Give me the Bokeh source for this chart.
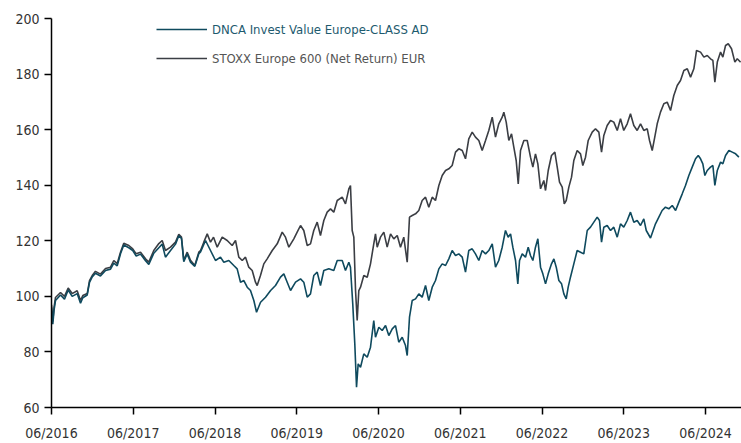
from bokeh.plotting import figure
from bokeh.models import Range1d, FixedTicker, Legend, LegendItem
from bokeh.embed import file_html
from bokeh.resources import INLINE

tick_years = [2016.5, 2017.5, 2018.5, 2019.5, 2020.5, 2021.5, 2022.5, 2023.5, 2024.5]
tick_labels = ["06/2016", "06/2017", "06/2018", "06/2019", "06/2020", "06/2021", "06/2022", "06/2023", "06/2024"]
y_ticks = [60, 80, 100, 120, 140, 160, 180, 200]

bench_name = "STOXX Europe 600 (Net Return) EUR"
fund_name = "DNCA Invest Value Europe-CLASS AD"

bench_years = [
    2016.500, 2016.516, 2016.531, 2016.549, 2016.610, 2016.659, 2016.704, 2016.753, 2016.814, 2016.855,
    2016.883, 2016.937, 2016.965, 2016.998, 2017.038, 2017.099, 2017.161, 2017.222, 2017.262, 2017.304,
    2017.344, 2017.384, 2017.446, 2017.494, 2017.536, 2017.589, 2017.650, 2017.690, 2017.751, 2017.813,
    2017.854, 2017.894, 2017.956, 2018.017, 2018.057, 2018.090, 2018.118, 2018.160, 2018.200, 2018.253,
    2018.302, 2018.323, 2018.363, 2018.405, 2018.445, 2018.482, 2018.527, 2018.588, 2018.649, 2018.710,
    2018.751, 2018.791, 2018.833, 2018.873, 2018.913, 2018.955, 2018.995, 2019.016, 2019.056, 2019.097,
    2019.138, 2019.200, 2019.261, 2019.322, 2019.362, 2019.403, 2019.464, 2019.505, 2019.546, 2019.586,
    2019.628, 2019.668, 2019.708, 2019.750, 2019.790, 2019.831, 2019.872, 2019.913, 2019.953, 2019.995,
    2020.056, 2020.096, 2020.137, 2020.157, 2020.178, 2020.198, 2020.219, 2020.239, 2020.259, 2020.280,
    2020.320, 2020.362, 2020.402, 2020.442, 2020.463, 2020.484, 2020.524, 2020.565, 2020.606, 2020.647,
    2020.687, 2020.729, 2020.769, 2020.809, 2020.851, 2020.879, 2020.912, 2020.953, 2020.993, 2021.034,
    2021.075, 2021.115, 2021.157, 2021.197, 2021.238, 2021.279, 2021.320, 2021.360, 2021.401, 2021.442,
    2021.482, 2021.524, 2021.564, 2021.604, 2021.646, 2021.686, 2021.727, 2021.768, 2021.809, 2021.849,
    2021.891, 2021.931, 2021.971, 2022.013, 2022.033, 2022.062, 2022.094, 2022.127, 2022.155, 2022.184,
    2022.209, 2022.237, 2022.278, 2022.319, 2022.359, 2022.388, 2022.420, 2022.449, 2022.482, 2022.522,
    2022.543, 2022.576, 2022.616, 2022.657, 2022.686, 2022.714, 2022.747, 2022.772, 2022.796, 2022.828,
    2022.861, 2022.889, 2022.930, 2022.971, 2022.999, 2023.032, 2023.065, 2023.114, 2023.154, 2023.195,
    2023.228, 2023.256, 2023.297, 2023.338, 2023.378, 2023.420, 2023.460, 2023.500, 2023.542, 2023.582,
    2023.623, 2023.664, 2023.705, 2023.745, 2023.787, 2023.815, 2023.848, 2023.879, 2023.909, 2023.949,
    2023.990, 2024.031, 2024.072, 2024.112, 2024.154, 2024.194, 2024.235, 2024.277, 2024.317, 2024.357,
    2024.390, 2024.439, 2024.480, 2024.521, 2024.561, 2024.590, 2024.614, 2024.644, 2024.684, 2024.712,
    2024.745, 2024.778, 2024.818, 2024.859, 2024.888, 2024.929,
]
bench_values = [
    97.0, 91.0, 96.0, 99.6, 101.4, 100.0, 103.0, 101.0, 102.0, 98.5,
    100.3, 101.0, 105.7, 107.5, 109.0, 108.0, 110.0, 110.5, 112.9, 111.8,
    115.9, 119.1, 118.3, 117.1, 115.3, 115.9, 113.5, 112.3, 116.5, 119.0,
    120.1, 116.5, 117.7, 119.5, 122.3, 121.3, 113.0, 115.9, 113.0, 111.1,
    115.9, 116.5, 119.5, 122.5, 119.5, 121.3, 117.7, 121.3, 120.1, 118.3,
    120.1, 114.1, 112.9, 114.1, 110.5, 109.3, 105.1, 103.9, 107.5, 111.7,
    113.5, 116.5, 118.9, 123.1, 121.3, 117.7, 120.7, 123.1, 125.5, 123.7,
    118.3, 118.9, 123.7, 126.7, 121.9, 127.3, 130.3, 131.5, 130.3, 134.5,
    135.7, 133.3, 138.7, 139.9, 123.7, 121.3, 102.1, 91.3, 102.1, 103.3,
    107.5, 106.9, 111.7, 118.9, 122.5, 117.7, 121.3, 123.1, 117.7, 122.5,
    120.7, 121.9, 117.7, 121.3, 112.3, 128.5, 129.1, 129.7, 130.9, 134.5,
    135.7, 132.1, 135.7, 134.5, 139.9, 143.5, 145.3, 145.9, 147.1, 151.9,
    153.1, 152.5, 149.5, 156.7, 159.1, 157.3, 156.1, 152.5, 156.1, 159.7,
    164.5, 157.3, 162.1, 164.5, 166.3, 162.7, 156.1, 158.5, 153.7, 148.9,
    140.5, 152.5, 156.1, 156.1, 150.1, 146.5, 151.3, 147.7, 138.7, 141.7,
    138.1, 145.3, 150.7, 151.9, 146.5, 141.1, 139.3, 133.3, 134.5, 139.3,
    142.9, 148.9, 152.5, 151.3, 147.1, 150.1, 156.1, 159.1, 160.3, 159.1,
    151.9, 157.9, 161.5, 163.3, 162.7, 159.7, 163.9, 159.7, 162.1, 165.7,
    161.5, 159.7, 162.1, 159.7, 160.3, 156.1, 152.5, 157.3, 162.1, 166.3,
    169.3, 169.9, 166.9, 172.3, 175.9, 177.7, 181.3, 181.9, 178.9, 181.9,
    188.5, 187.9, 186.1, 186.7, 185.5, 184.9, 177.1, 184.3, 187.9, 186.1,
    190.3, 190.9, 189.1, 184.3, 185.5, 184.3,
]

fund_years = [
    2016.500, 2016.516, 2016.531, 2016.549, 2016.610, 2016.659, 2016.704, 2016.753, 2016.814, 2016.855,
    2016.883, 2016.937, 2016.965, 2016.998, 2017.038, 2017.099, 2017.161, 2017.222, 2017.262, 2017.304,
    2017.344, 2017.384, 2017.446, 2017.494, 2017.536, 2017.589, 2017.650, 2017.690, 2017.751, 2017.813,
    2017.854, 2017.894, 2017.956, 2018.017, 2018.057, 2018.090, 2018.118, 2018.160, 2018.200, 2018.253,
    2018.302, 2018.323, 2018.384, 2018.445, 2018.506, 2018.567, 2018.608, 2018.669, 2018.730, 2018.771,
    2018.812, 2018.853, 2018.894, 2018.934, 2018.975, 2019.008, 2019.057, 2019.118, 2019.180, 2019.240,
    2019.301, 2019.342, 2019.383, 2019.424, 2019.485, 2019.546, 2019.586, 2019.628, 2019.668, 2019.708,
    2019.750, 2019.790, 2019.831, 2019.892, 2019.953, 2019.995, 2020.056, 2020.096, 2020.137, 2020.157,
    2020.185, 2020.210, 2020.231, 2020.251, 2020.280, 2020.320, 2020.362, 2020.402, 2020.442, 2020.463,
    2020.504, 2020.545, 2020.586, 2020.626, 2020.668, 2020.708, 2020.748, 2020.790, 2020.830, 2020.851,
    2020.879, 2020.912, 2020.953, 2020.993, 2021.034, 2021.075, 2021.115, 2021.157, 2021.197, 2021.238,
    2021.279, 2021.320, 2021.360, 2021.401, 2021.442, 2021.482, 2021.524, 2021.564, 2021.604, 2021.646,
    2021.686, 2021.727, 2021.768, 2021.809, 2021.849, 2021.891, 2021.931, 2021.971, 2022.013, 2022.053,
    2022.086, 2022.115, 2022.143, 2022.176, 2022.204, 2022.225, 2022.258, 2022.298, 2022.331, 2022.359,
    2022.388, 2022.420, 2022.449, 2022.482, 2022.510, 2022.543, 2022.576, 2022.616, 2022.645, 2022.674,
    2022.706, 2022.739, 2022.767, 2022.796, 2022.820, 2022.848, 2022.889, 2022.930, 2022.971, 2023.011,
    2023.053, 2023.093, 2023.134, 2023.175, 2023.203, 2023.228, 2023.256, 2023.297, 2023.338, 2023.378,
    2023.420, 2023.460, 2023.500, 2023.542, 2023.582, 2023.623, 2023.664, 2023.705, 2023.745, 2023.775,
    2023.827, 2023.888, 2023.929, 2023.969, 2024.010, 2024.051, 2024.093, 2024.134, 2024.174, 2024.215,
    2024.255, 2024.296, 2024.337, 2024.378, 2024.411, 2024.439, 2024.467, 2024.492, 2024.521, 2024.561,
    2024.590, 2024.614, 2024.644, 2024.684, 2024.712, 2024.745, 2024.786, 2024.827, 2024.868, 2024.908,
]
fund_values = [
    96.0, 90.0, 95.0, 98.5, 100.5, 99.0, 102.3, 100.0, 101.0, 97.5,
    99.5, 100.5, 105.0, 107.0, 108.3, 107.3, 109.3, 109.8, 112.0, 111.0,
    115.3, 118.5, 117.5, 116.5, 114.5, 115.2, 112.8, 111.5, 115.5, 117.5,
    118.8, 114.1, 116.5, 118.8, 121.8, 120.8, 112.5, 115.3, 112.3, 110.8,
    115.3, 116.0, 120.1, 116.5, 112.9, 114.1, 112.3, 112.9, 111.1, 109.9,
    105.1, 105.7, 103.3, 102.1, 98.5, 94.3, 97.9, 99.7, 102.1, 103.9,
    106.9, 108.1, 105.1, 102.1, 105.1, 106.3, 105.1, 99.7, 100.9, 107.5,
    108.7, 103.9, 109.3, 109.9, 109.3, 112.9, 112.9, 109.3, 112.3, 110.5,
    97.3, 82.9, 67.3, 75.7, 74.5, 79.3, 78.1, 81.7, 91.3, 85.3,
    88.9, 87.7, 89.5, 85.9, 88.3, 89.5, 83.5, 85.3, 82.3, 78.7,
    92.5, 98.5, 99.1, 100.9, 99.7, 103.9, 98.5, 103.3, 105.7, 109.9,
    111.7, 111.1, 113.5, 116.5, 114.7, 115.3, 114.1, 108.7, 116.5, 117.1,
    115.3, 112.9, 116.5, 115.3, 116.5, 118.9, 110.5, 112.9, 117.7, 123.7,
    121.3, 122.5, 117.7, 112.9, 104.5, 112.9, 115.3, 114.1, 117.7, 114.7,
    112.9, 117.7, 120.7, 110.5, 108.1, 104.5, 108.1, 111.7, 113.5, 110.5,
    105.7, 104.5, 100.9, 99.1, 103.3, 106.9, 111.7, 116.5, 115.9, 115.3,
    123.7, 124.9, 126.7, 128.5, 127.3, 119.5, 124.9, 125.5, 123.7, 124.9,
    121.3, 126.1, 124.9, 127.3, 130.3, 126.7, 127.3, 125.5, 127.9, 123.7,
    121.0, 126.1, 128.5, 130.9, 132.1, 131.5, 132.7, 130.9, 133.9, 136.9,
    139.9, 143.5, 146.5, 149.5, 150.7, 149.5, 147.7, 143.5, 145.3, 146.5,
    147.1, 139.9, 145.3, 148.3, 147.7, 150.7, 152.5, 151.9, 151.3, 150.1,
]

FUND_COLOR = "#0f4a5e"
BENCH_COLOR = "#3b3e44"
FONT = "DejaVu Sans Condensed"

p = figure(width=741, height=443, output_backend="svg", toolbar_location=None,
           x_range=Range1d(2016.5, 2024.94), y_range=Range1d(60, 200),
           min_border_left=51, min_border_right=0, min_border_top=18, min_border_bottom=36)
p.outline_line_color = None
p.grid.visible = False
p.background_fill_color = "white"
p.border_fill_color = "white"

r_bench = p.line(bench_years, bench_values, line_color=BENCH_COLOR, line_width=1.6)
r_fund = p.line(fund_years, fund_values, line_color=FUND_COLOR, line_width=1.6)

for ax in (p.xaxis[0], p.yaxis[0]):
    ax.axis_line_color = "black"
    ax.axis_line_width = 1.5
    ax.major_tick_line_color = "black"
    ax.major_tick_line_width = 1.5
    ax.major_tick_in = 0
    ax.major_tick_out = 7
    ax.minor_tick_line_color = None
    ax.major_label_text_font = FONT
    ax.major_label_text_font_size = "14px"
    ax.major_label_text_color = "#333333"

p.xaxis[0].ticker = FixedTicker(ticks=tick_years)
p.xaxis[0].major_label_overrides = {t: l for t, l in zip(tick_years, tick_labels)}
p.xaxis[0].major_label_standoff = 10
p.yaxis[0].ticker = FixedTicker(ticks=y_ticks)
p.yaxis[0].major_label_standoff = 5

def make_legend(renderer, label, color, loc):
    lg = Legend(items=[LegendItem(label=label, renderers=[renderer])], location=loc,
                orientation="vertical", padding=0, margin=0, spacing=0,
                glyph_width=51, glyph_height=26, label_height=26, label_standoff=5,
                label_text_font=FONT, label_text_font_size="13px", label_text_color=color,
                border_line_color=None, background_fill_alpha=0)
    return lg

p.add_layout(make_legend(r_fund, fund_name, "#1d5a6e", (105, 365)))
p.add_layout(make_legend(r_bench, bench_name, "#555555", (105, 336)))

open("out.html", "w").write(file_html(p, INLINE))
